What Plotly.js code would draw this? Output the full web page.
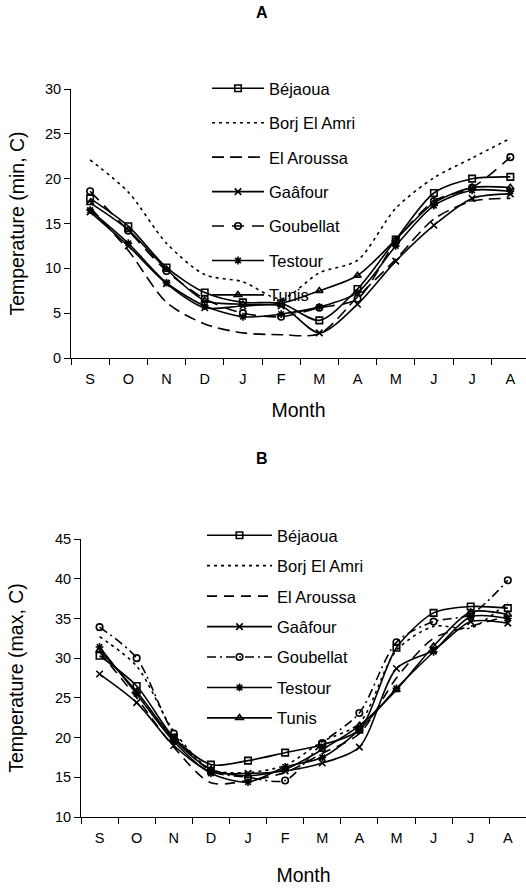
<!DOCTYPE html>
<html>
<head>
<meta charset="utf-8">
<script src="https://cdn.plot.ly/plotly-3.0.1.min.js"></script>
<style>html,body{margin:0;padding:0;background:#fff;} #chart{width:526px;height:892px;}</style>
</head>
<body>
<div id="chart"></div>
<script>
// ---------- data ----------
const monthLabels = ["S","O","N","D","J","F","M","A","M","J","J","A"];
const monthIdx = [0,1,2,3,4,5,6,7,8,9,10,11];
const stations = ["Béjaoua","Borj El Amri","El Aroussa","Gaâfour","Goubellat","Testour","Tunis"];

// Panel A: minimum temperature (C)
const minBejaoua   = [17.8,14.7,10.1,7.3,6.2,6.1,4.2,7.7,13.2,18.4,20.0,20.2];
const minBorj      = [22.1,18.5,12.8,9.3,8.5,6.6,9.5,10.9,16.7,20.1,22.3,24.5];
const minAroussa   = [16.8,12.0,6.2,3.8,2.8,2.6,2.7,6.8,11.0,15.5,17.5,17.8];
const minGaafour   = [16.3,12.5,8.3,5.6,5.8,5.8,2.8,6.0,10.8,14.8,17.8,18.3];
const minGoubellat = [18.6,14.2,9.7,6.6,5.0,4.6,5.6,6.6,13.0,17.5,19.0,22.4];
const minTestour   = [16.5,12.8,8.4,5.8,4.6,4.9,5.7,7.3,12.5,17.0,18.7,18.6];
const minTunis     = [17.3,14.3,9.9,6.4,6.0,6.1,7.5,9.2,13.2,17.3,19.0,19.0];

// Panel B: maximum temperature (C)
const maxBejaoua   = [30.3,26.5,20.0,16.6,17.1,18.1,19.1,21.0,31.3,35.7,36.5,36.3];
const maxBorj      = [32.7,29.0,20.8,16.0,15.6,16.5,19.5,21.8,31.0,34.0,33.8,37.0];
const maxAroussa   = [30.8,25.0,18.8,14.3,14.6,15.6,18.0,20.5,27.5,32.5,34.0,35.3];
const maxGaafour   = [28.0,24.4,19.0,15.7,15.5,15.8,16.8,18.8,28.7,31.0,34.6,34.4];
const maxGoubellat = [33.9,30.0,20.5,15.8,15.0,14.6,19.3,23.1,32.0,34.6,35.5,39.8];
const maxTestour   = [31.4,25.5,19.5,15.5,14.4,16.3,17.5,21.0,26.2,30.8,35.2,35.0];
const maxTunis     = [31.0,25.8,19.8,16.0,15.2,16.0,18.5,21.5,26.0,31.5,35.8,35.5];

const minSeries = [minBejaoua,minBorj,minAroussa,minGaafour,minGoubellat,minTestour,minTunis];
const maxSeries = [maxBejaoua,maxBorj,maxAroussa,maxGaafour,maxGoubellat,maxTestour,maxTunis];

// ---------- styles ----------
const symbolsList = ["square-open", null, null, "x-thin-open", "circle-open", "asterisk-open", "triangle-up-open"];
const dashA = ["solid","3px,4px","12px,6px","solid","12px,8px","solid","solid"];
const dashB = ["solid","3px,4px","10px,7px","solid","9px,4px,2px,4px","solid","solid"];

const FONT = "Liberation Sans, Arial, sans-serif";
const traces = [];
function addPanel(series, dashes, xa, ya, legendName){
  series.forEach((vals,i)=>{
    const sym = symbolsList[i];
    const tr = {
      x: monthIdx, y: vals, xaxis: xa, yaxis: ya,
      type: "scatter",
      mode: sym ? "lines+markers" : "lines",
      name: stations[i],
      legend: legendName,
      legendgroup: legendName + i,
      line: {color:"#000", width: 1.6, dash: dashes[i], shape:"spline", smoothing:0.8}
    };
    if (sym) tr.marker = {symbol: sym, size: 6.5, color:"#000", line:{color:"#000", width:1.6}};
    traces.push(tr);
  });
}
addPanel(minSeries, dashA, "x", "y", "legend");
addPanel(maxSeries, dashB, "x2", "y2", "legend2");

// tick-mark overlay axes (ticks between categories)
const bounds = monthIdx.map(v=>v-0.5).concat([11.5]);
const W = 526, H = 892;
const rangeA = [-0.5, 11.41];
const rangeB = [-0.5, 11.49];

const baseX = {
  tickmode:"array", tickvals: monthIdx, ticktext: monthLabels,
  ticks:"outside", ticklen:8, tickcolor:"rgba(0,0,0,0)",
  showgrid:false, zeroline:false, showline:true, linecolor:"#000", linewidth:1,
  tickfont:{family:FONT, size:14.5, color:"#000"}
};
const tickX = {
  tickmode:"array", tickvals: bounds, ticks:"outside", ticklen:6, tickcolor:"#000", tickwidth:1,
  showticklabels:false, showgrid:false, zeroline:false, showline:false
};
const baseY = {
  ticks:"outside", ticklen:6, tickcolor:"#000", tickwidth:1, showgrid:false, zeroline:false,
  showline:true, linecolor:"#000", linewidth:1, tickfont:{family:FONT, size:14.5, color:"#000"}
};
const titleFont = {family:FONT, size:19.5, color:"#000"};

const domXA = [71/W, 1], domXB = [81/W, 1];
const domYA = [(H-358)/H, (H-89)/H];
const domYB = [(H-817)/H, (H-539)/H];

const layout = {
  width: W, height: H,
  margin:{l:0, r:0, t:0, b:0},
  paper_bgcolor:"#fff", plot_bgcolor:"#fff",
  showlegend: true,
  font:{family:FONT, color:"#000"},
  xaxis: Object.assign({}, baseX, {domain: domXA, range: rangeA, anchor:"y",
          title:{text:"Month", font:titleFont, standoff:16}}),
  yaxis: Object.assign({}, baseY, {domain: domYA, range:[0,30], dtick:5, anchor:"x",
          title:{text:"Temperature (min, C)", font:titleFont, standoff:15}}),
  xaxis2: Object.assign({}, baseX, {domain: domXB, range: rangeB, anchor:"y2",
          title:{text:"Month", font:titleFont, standoff:22}}),
  yaxis2: Object.assign({}, baseY, {domain: domYB, range:[10,45], dtick:5, anchor:"x2",
          title:{text:"Temperature (max, C)", font:titleFont, standoff:26}}),
  xaxis3: Object.assign({}, tickX, {domain: domXA, range: rangeA, anchor:"y", overlaying:"x"}),
  xaxis4: Object.assign({}, tickX, {domain: domXB, range: rangeB, anchor:"y2", overlaying:"x2"}),
  legend: {x: 207/W, y: (H-71)/H, xanchor:"left", yanchor:"top", bgcolor:"rgba(0,0,0,0)",
           font:{family:FONT, size:16.5, color:"#000"}, traceorder:"grouped", tracegroupgap:10, itemwidth:52},
  legend2:{x: 202/W, y: (H-518)/H, xanchor:"left", yanchor:"top", bgcolor:"rgba(0,0,0,0)",
           font:{family:FONT, size:16.5, color:"#000"}, traceorder:"grouped", tracegroupgap:6, itemwidth:65},
  annotations:[
    {text:"<b>A</b>", x:262/W, y:(H-13)/H, xref:"paper", yref:"paper", showarrow:false,
     font:{family:FONT, size:16, color:"#000"}, xanchor:"center", yanchor:"middle"},
    {text:"<b>B</b>", x:262/W, y:(H-458)/H, xref:"paper", yref:"paper", showarrow:false,
     font:{family:FONT, size:16, color:"#000"}, xanchor:"center", yanchor:"middle"}
  ]
};
// invisible traces that activate the overlay tick axes
traces.push({x:[0], y:[null], xaxis:"x3", yaxis:"y", showlegend:false, hoverinfo:"skip", mode:"markers", type:"scatter"});
traces.push({x:[0], y:[null], xaxis:"x4", yaxis:"y2", showlegend:false, hoverinfo:"skip", mode:"markers", type:"scatter"});

Plotly.newPlot("chart", traces, layout, {displayModeBar:false, staticPlot:true});
</script>
</body>
</html>
